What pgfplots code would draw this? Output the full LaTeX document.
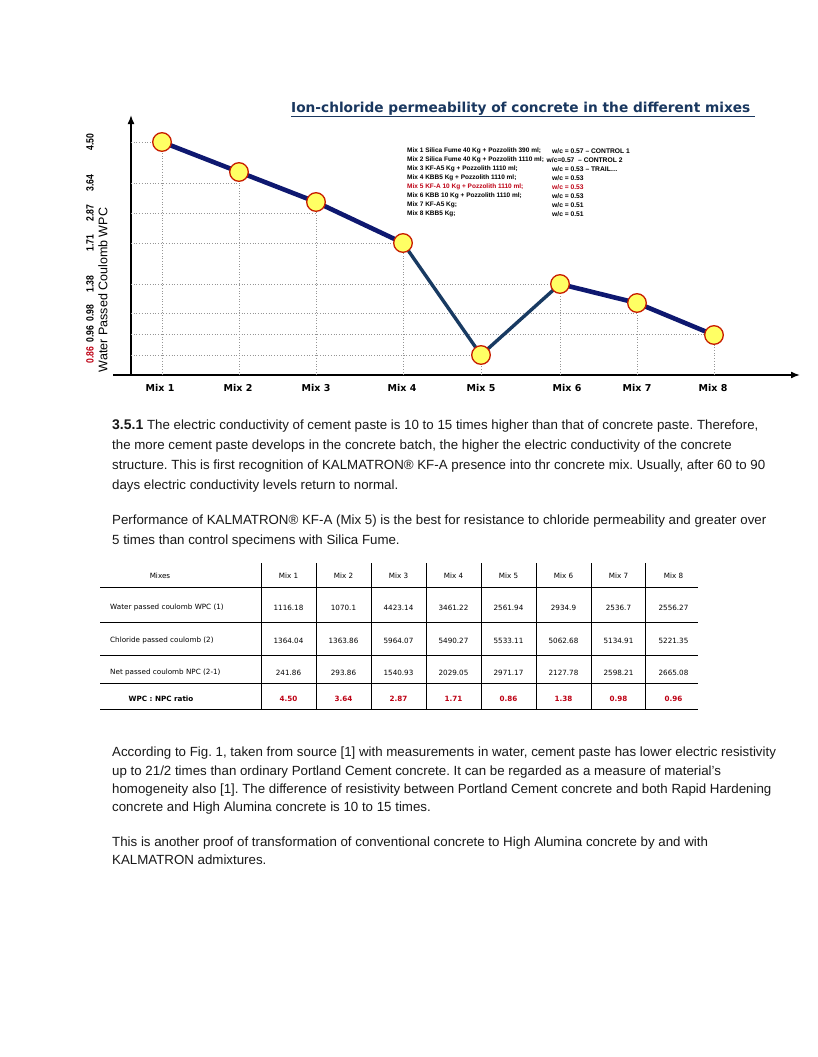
\documentclass[border=0pt]{standalone}
\usepackage{fontspec}
\setmainfont{Liberation Sans}
\newfontfamily\dejavu{DejaVu Sans}
\newfontfamily\narrowfont[FakeStretch=0.82]{Liberation Sans}
\usepackage{pgfplots}
\usepackage{pgfplotstable}
\pgfplotsset{compat=1.18}
\usetikzlibrary{arrows.meta}
\frenchspacing

\definecolor{navy}{RGB}{14,24,112}
\definecolor{slate}{RGB}{24,58,98}
\definecolor{mkfill}{RGB}{255,255,100}
\definecolor{mkdraw}{RGB}{200,30,0}
\definecolor{titleblue}{RGB}{25,55,95}
\definecolor{tred}{RGB}{190,0,20}
\definecolor{bodytext}{RGB}{25,25,25}
\definecolor{gridgray}{RGB}{150,150,150}

% x = position of each mix, ypt = height of its point, ygrid = height of its grid line (px above x axis)
\pgfplotstableread{
x   ypt  ygrid
162 233  233
239 203  192
316 173  162
403 132  132
481 20   20
560 91   91
637 72   62
714 40   41
}\mixdata

\begin{document}
\begin{tikzpicture}
\fill[white] (0,0) rectangle (817pt,-1057pt);
\path[use as bounding box] (0,0) rectangle (817pt,-1057pt);

\begin{axis}[
  x=1pt, y=1pt,
  xmin=131, xmax=800, ymin=0, ymax=260,
  at={(131pt,-375pt)}, anchor=south west,
  axis lines=left,
  axis line style={line width=1.6pt, -{Latex[length=9pt,width=7pt]}},
  major tick length=0pt,
  xtick={160,238,316,402,481,567,637,713},
  xticklabels={Mix 1,Mix 2,Mix 3,Mix 4,Mix 5,Mix 6,Mix 7,Mix 8},
  xticklabel style={anchor=center, yshift=-13pt, font=\dejavu\bfseries\fontsize{9.5}{10}\selectfont},
  ytick={20,41,62,91,132,162,192,233},
  yticklabels={\textcolor{tred}{0.86},0.96,0.98,1.38,1.71,2.87,3.64,4.50},
  yticklabel style={xshift=-41pt, rotate=90, anchor=center, font=\narrowfont\bfseries\fontsize{10.5}{11}\selectfont},
  ylabel={Water Passed Coulomb WPC},
  ylabel style={at={(rel axis cs:-0.0419,0.327)}, anchor=center, font=\fontsize{12.5}{13}\selectfont},
]
% grid lines from the axes to each point
\addplot[xcomb, dotted, gridgray, line width=0.7pt] table[x=x, y=ygrid] {\mixdata};
\addplot[ycomb, dotted, gridgray, line width=0.7pt] table[x=x, y=ypt] {\mixdata};
% the line
\addplot[navy, line width=4.6pt, line join=round, restrict expr to domain={\coordindex}{0:3}] table[x=x, y=ypt] {\mixdata};
\addplot[slate, line width=3.4pt, line join=round, restrict expr to domain={\coordindex}{3:5}] table[x=x, y=ypt] {\mixdata};
\addplot[navy, line width=4.6pt, line join=round, restrict expr to domain={\coordindex}{5:7}] table[x=x, y=ypt] {\mixdata};
% markers
\addplot[only marks, mark=*, mark size=9.3pt, mark options={fill=mkfill, draw=mkdraw, line width=1.3pt}] table[x=x, y=ypt] {\mixdata};
\end{axis}

\begin{scope}[x=1pt, y=-1pt]
% x axis extension to the left of the y axis
\draw[line width=1.6pt] (113,375) -- (132,375);

% title
\node[anchor=base west, inner sep=0pt, text=titleblue, font=\dejavu\bfseries\fontsize{13.7}{14}\selectfont]
  at (291,112) {\underline{Ion-chloride permeability of concrete in the different mixes\ }};

% legend of the mixes
\begin{scope}[every node/.style={anchor=west, inner sep=0pt, font=\bfseries\fontsize{6.5}{7}\selectfont}]
\node at (407,151) {Mix 1 Silica Fume 40 Kg + Pozzolith 390 ml;};
\node at (407,160) {Mix 2 Silica Fume 40 Kg + Pozzolith 1110 ml;};
\node at (407,169) {Mix 3 KF-A5 Kg + Pozzolith 1110 ml;};
\node at (407,178) {Mix 4 KBB5 Kg + Pozzolith 1110 ml;};
\node[text=tred] at (407,187) {Mix 5 KF-A 10 Kg + Pozzolith 1110 ml;};
\node at (407,196) {Mix 6 KBB 10 Kg + Pozzolith 1110 ml;};
\node at (407,205) {Mix 7 KF-A5 Kg;};
\node at (407,214) {Mix 8 KBB5 Kg;};
\end{scope}
\begin{scope}[every node/.style={anchor=west, inner sep=0pt, font=\bfseries\fontsize{6.7}{7}\selectfont}]
\node at (552,151) {w/c = 0.57 -- CONTROL 1};
\node at (546.5,160) {w/c=0.57 \ -- CONTROL 2};
\node at (552,169) {w/c = 0.53 -- TRAIL\dots};
\node at (552,178) {w/c = 0.53};
\node[text=tred] at (552,187) {w/c = 0.53};
\node at (552,196) {w/c = 0.53};
\node at (552,205) {w/c = 0.51};
\node at (552,214) {w/c = 0.51};
\end{scope}

% body text
\begin{scope}[every node/.style={anchor=base west, inner sep=0pt, text=bodytext, font=\fontsize{13.3}{16}\selectfont}]
\node at (112,429) {{\bfseries\fontsize{14}{16}\selectfont 3.5.1} The electric conductivity of cement paste is 10 to 15 times higher than that of concrete paste. Therefore,};
\node at (112,449) {the more cement paste develops in the concrete batch, the higher the electric conductivity of the concrete};
\node at (112,469) {structure. This is first recognition of KALMATRON® KF-A presence into thr concrete mix. Usually, after 60 to 90};
\node at (112,489) {days electric conductivity levels return to normal.};
\node at (112,524) {Performance of KALMATRON® KF-A (Mix 5) is the best for resistance to chloride permeability and greater over};
\node at (112,544) {5 times than control specimens with Silica Fume.};
\node at (112,756) {According to Fig. 1, taken from source [1] with measurements in water, cement paste has lower electric resistivity};
\node at (112,775) {up to 21/2 times than ordinary Portland Cement concrete. It can be regarded as a measure of material's};
\node at (112,793) {homogeneity also [1]. The difference of resistivity between Portland Cement concrete and both Rapid Hardening};
\node at (112,811) {concrete and High Alumina concrete is 10 to 15 times.};
\node at (112,846) {This is another proof of transformation of conventional concrete to High Alumina concrete by and with};
\node at (112,864) {KALMATRON admixtures.};
\end{scope}

% table
\foreach \yy in {587,622,655,683,709} \draw[line width=0.8pt] (100,\yy) -- (698,\yy);
\foreach \xx in {261,316,371,426,481,536,591,645} \draw[line width=0.8pt] (\xx,563) -- (\xx,709);
\begin{scope}[every node/.style={anchor=center, inner sep=0pt, font=\dejavu\fontsize{7.2}{8}\selectfont}]
\node at (160,576) {Mixes};
\foreach \lab [count=\i] in {Mix 1,Mix 2,Mix 3,Mix 4,Mix 5,Mix 6,Mix 7,Mix 8}
  \node at ({261+55*(\i-1)+27.5},576) {\lab};
\node[anchor=west] at (110,608) {Water passed coulomb WPC (1)};
\node[anchor=west] at (110,641) {Chloride passed coulomb (2)};
\node[anchor=west] at (110,673) {Net passed coulomb NPC (2-1)};
\node[font=\dejavu\bfseries\fontsize{7.2}{8}\selectfont] at (161,699) {WPC : NPC ratio};
\foreach \v [count=\i] in {1116.18,1070.1,4423.14,3461.22,2561.94,2934.9,2536.7,2556.27}
  \node at ({261+55*(\i-1)+27.5},608) {\v};
\foreach \v [count=\i] in {1364.04,1363.86,5964.07,5490.27,5533.11,5062.68,5134.91,5221.35}
  \node at ({261+55*(\i-1)+27.5},641) {\v};
\foreach \v [count=\i] in {241.86,293.86,1540.93,2029.05,2971.17,2127.78,2598.21,2665.08}
  \node at ({261+55*(\i-1)+27.5},673) {\v};
\foreach \v [count=\i] in {4.50,3.64,2.87,1.71,0.86,1.38,0.98,0.96}
  \node[text=tred, font=\dejavu\bfseries\fontsize{7.2}{8}\selectfont] at ({261+55*(\i-1)+27.5},699) {\v};
\end{scope}
\end{scope}
\end{tikzpicture}
\end{document}
